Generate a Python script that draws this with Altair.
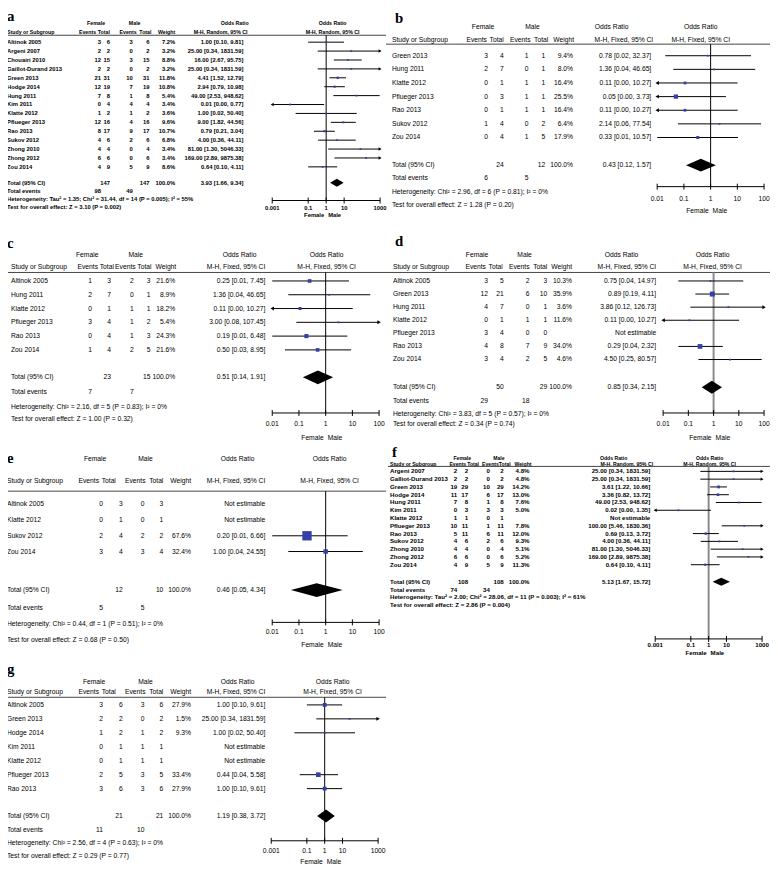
import altair as alt
import pandas as pd

OFF = 8           # page margin
W, H = 770, 863   # chart size

# ---------------- data ----------------
# (a) all studies, random effects
a_study = ["Altinok 2005", "Argeni  2007", "Chouairi 2010", "Gaillot-Durand  2013", "Green 2013", "Hodge 2014",
           "Hung 2011", "Kim  2011", "Klatte  2012", "Pflueger 2013", "Rao 2013", "Sukov 2012",
           "Zhong 2010", "Zhong 2012", "Zou 2014"]
a_fe = [3, 2, 12, 2, 21, 12, 7, 0, 1, 12, 8, 4, 4, 6, 4]
a_ft = [6, 2, 15, 2, 31, 19, 8, 4, 2, 16, 17, 6, 4, 6, 9]
a_me = [3, 0, 3, 0, 10, 7, 1, 4, 1, 4, 9, 2, 0, 0, 5]
a_mt = [6, 2, 15, 2, 31, 19, 8, 4, 2, 16, 17, 6, 4, 6, 9]
a_w = [7.2, 3.2, 8.8, 3.2, 11.8, 10.8, 5.4, 3.4, 3.6, 9.6, 10.7, 6.8, 3.4, 3.4, 8.6]
a_or = [1.00, 25.00, 16.00, 25.00, 4.41, 2.94, 49.00, 0.01, 1.00, 9.00, 0.79, 4.00, 81.00, 169.00, 0.64]
a_lo = [0.10, 0.34, 2.67, 0.34, 1.52, 0.79, 2.53, 0.00, 0.02, 1.82, 0.21, 0.36, 1.30, 2.89, 0.10]
a_hi = [9.81, 1831.59, 95.75, 1831.59, 12.79, 10.98, 948.62, 0.77, 50.40, 44.56, 3.04, 44.11, 5046.33, 9875.38, 4.11]
a_tot = [147, 147, 3.93, 1.66, 9.34]
a_ev = [98, 49]
a_het = "Heterogeneity: Tau² = 1.35; Chi² = 31.44, df = 14 (P = 0.005); I² = 55%"
a_test = "Test for overall effect: Z = 3.10 (P = 0.002)"

# (b)
b_study = ["Green 2013", "Hung 2011", "Klatte  2012", "Pflueger 2013", "Rao 2013", "Sukov 2012", "Zou 2014"]
b_fe = [3, 2, 0, 0, 0, 1, 0]
b_ft = [4, 7, 1, 3, 1, 4, 4]
b_me = [1, 0, 1, 1, 1, 0, 1]
b_mt = [1, 1, 1, 1, 1, 2, 5]
b_w = [9.4, 8.0, 16.4, 25.5, 16.4, 6.4, 17.9]
b_or = [0.78, 1.36, 0.11, 0.05, 0.11, 2.14, 0.33]
b_lo = [0.02, 0.04, 0.00, 0.00, 0.00, 0.06, 0.01]
b_hi = [32.37, 46.65, 10.27, 3.73, 10.27, 77.54, 10.57]
b_tot = [24, 12, 0.43, 0.12, 1.57]
b_ev = [6, 5]
b_het = "Heterogeneity: Chi² = 2.96, df = 6 (P = 0.81); I² = 0%"
b_test = "Test for overall effect: Z = 1.28 (P = 0.20)"

# (c)
c_study = ["Altinok 2005", "Hung 2011", "Klatte  2012", "Pflueger 2013", "Rao 2013", "Zou 2014"]
c_fe = [1, 2, 0, 3, 0, 1]
c_ft = [3, 7, 1, 4, 4, 4]
c_me = [2, 0, 1, 1, 1, 2]
c_mt = [3, 1, 1, 2, 3, 5]
c_w = [21.6, 8.9, 18.2, 5.4, 24.3, 21.6]
c_or = [0.25, 1.36, 0.11, 3.00, 0.19, 0.50]
c_lo = [0.01, 0.04, 0.00, 0.08, 0.01, 0.03]
c_hi = [7.45, 46.65, 10.27, 107.45, 6.48, 8.95]
c_tot = [23, 15, 0.51, 0.14, 1.91]
c_ev = [7, 7]
c_het = "Heterogeneity: Chi² = 2.16, df = 5 (P = 0.83); I² = 0%"
c_test = "Test for overall effect: Z = 1.00 (P = 0.32)"

# (d)
d_study = ["Altinok 2005", "Green 2013", "Hung 2011", "Klatte  2012", "Pflueger 2013", "Rao 2013", "Zou 2014"]
d_fe = [3, 12, 4, 0, 3, 4, 3]
d_ft = [5, 21, 7, 1, 4, 8, 4]
d_me = [2, 6, 0, 1, 0, 7, 2]
d_mt = [3, 10, 1, 1, 0, 9, 5]
d_w = [10.3, 35.9, 3.6, 11.6, None, 34.0, 4.6]
d_or = [0.75, 0.89, 3.86, 0.11, None, 0.29, 4.50]
d_lo = [0.04, 0.19, 0.12, 0.00, None, 0.04, 0.25]
d_hi = [14.97, 4.11, 126.73, 10.27, None, 2.32, 80.57]
d_tot = [50, 29, 0.85, 0.34, 2.15]
d_ev = [29, 18]
d_het = "Heterogeneity: Chi² = 3.83, df = 5 (P = 0.57); I² = 0%"
d_test = "Test for overall effect: Z = 0.34 (P = 0.74)"

# (e)
e_study = ["Altinok 2005", "Klatte  2012", "Sukov 2012", "Zou 2014"]
e_fe = [0, 0, 2, 3]
e_ft = [3, 1, 4, 4]
e_me = [0, 0, 2, 3]
e_mt = [3, 1, 2, 4]
e_w = [None, None, 67.6, 32.4]
e_or = [None, None, 0.20, 1.00]
e_lo = [None, None, 0.01, 0.04]
e_hi = [None, None, 6.66, 24.55]
e_tot = [12, 10, 0.46, 0.05, 4.34]
e_ev = [5, 5]
e_het = "Heterogeneity: Chi² = 0.44, df = 1 (P = 0.51); I² = 0%"
e_test = "Test for overall effect: Z = 0.68 (P = 0.50)"

# (f)
f_study = ["Argeni  2007", "Galliot-Durand  2013", "Green 2013", "Hodge 2014", "Hung 2011", "Kim  2011",
           "Klatte  2012", "Pflueger 2013", "Rao 2013", "Sukov 2012", "Zhong 2010", "Zhong 2012", "Zou 2014"]
f_fe = [2, 2, 19, 11, 7, 0, 1, 10, 5, 4, 4, 6, 4]
f_ft = [2, 2, 29, 17, 8, 3, 1, 11, 11, 6, 4, 6, 9]
f_me = [0, 0, 10, 6, 1, 3, 0, 1, 6, 2, 0, 0, 5]
f_mt = [2, 2, 29, 17, 8, 3, 1, 11, 11, 6, 4, 6, 9]
f_w = [4.8, 4.8, 14.2, 13.0, 7.6, 5.0, None, 7.8, 12.0, 9.3, 5.1, 5.2, 11.3]
f_or = [25.00, 25.00, 3.61, 3.36, 49.00, 0.02, None, 100.00, 0.69, 4.00, 81.00, 169.00, 0.64]
f_lo = [0.34, 0.34, 1.22, 0.82, 2.53, 0.00, None, 5.46, 0.13, 0.36, 1.30, 2.89, 0.10]
f_hi = [1831.59, 1831.59, 10.66, 13.72, 948.62, 1.35, None, 1830.36, 3.72, 44.11, 5046.33, 9875.38, 4.11]
f_tot = [108, 108, 5.13, 1.67, 15.72]
f_ev = [74, 34]
f_het = "Heterogeneity: Tau² = 2.00; Chi² = 28.06, df = 11 (P = 0.003); I² = 61%"
f_test = "Test for overall effect: Z = 2.86 (P = 0.004)"

# (g)
g_study = ["Altinok 2005", "Green 2013", "Hodge 2014", "Kim  2011", "Klatte  2012", "Pflueger 2013", "Rao 2013"]
g_fe = [3, 2, 1, 0, 0, 2, 3]
g_ft = [6, 2, 2, 1, 1, 5, 6]
g_me = [3, 0, 1, 1, 1, 3, 3]
g_mt = [6, 2, 2, 1, 1, 5, 6]
g_w = [27.9, 1.5, 9.3, None, None, 33.4, 27.9]
g_or = [1.00, 25.00, 1.00, None, None, 0.44, 1.00]
g_lo = [0.10, 0.34, 0.02, None, None, 0.04, 0.10]
g_hi = [9.61, 1831.59, 50.40, None, None, 5.58, 9.61]
g_tot = [21, 21, 1.19, 0.38, 3.72]
g_ev = [11, 10]
g_het = "Heterogeneity: Chi² = 2.56, df = 4 (P = 0.63); I² = 0%"
g_test = "Test for overall effect: Z = 0.29 (P = 0.77)"

# ---------------- layout (page pixel positions) ----------------
WIDE_A = dict(font="Liberation Sans", size=5.9, hsize=5.3, fw="bold")
WIDE_F = dict(font="Liberation Sans", size=6.2, hsize=5.2, fw="bold")
NARROW = dict(font="Liberation Sans", size=6.8, hsize=6.8, fw="normal")

La = dict(lab=(7, 17), row1=19, row2=28, line=31, lx=(5, 390), y0=38, step=9, total=180, tev=188, het=196.5, test=204.5,
          sx=7, hdr=[97, 111, 138, 153, 177, 250], val=[102, 111, 134, 151, 177, 246], grp=[97, 136, 237], fhdr=336,
          dom=(0.001, 1000), xr=(275, 384), axis=198, ticklab=205.5, fm=212.5, ticks=[0.001, 0.1, 1, 10, 1000],
          vcol="black", vw=1, k=0.2, dia=4, arrow=12, **WIDE_A)
Lb = dict(lab=(399, 19), row1=23, row2=36, line=40, lx=(390, 778), y0=51.7, step=13.77, total=162.3, tev=175.7, het=189.3,
          test=202.3, sx=396, hdr=[492, 509, 536, 554, 580, 660], val=[493, 509, 534, 551, 579, 658], grp=[488, 538, 618],
          fhdr=708, dom=(0.01, 100), xr=(664, 772), axis=184, ticklab=197, fm=209, ticks=[0.01, 0.1, 1, 10, 100],
          vcol="black", vw=1, k=0.17, dia=6.5, arrow=16, **NARROW)
Lc = dict(lab=(7, 246), row1=253, row2=265.7, line=270.7, lx=(5, 390), y0=279.3, step=13.93, total=376.7, tev=392,
          het=406.7, test=419.3, sx=11, hdr=[99, 115, 137, 153, 178, 268], val=[93, 112, 135, 152, 177, 268],
          grp=[88, 137, 242], fhdr=330, dom=(0.01, 100), xr=(275, 383), axis=412.7, ticklab=424.3, fm=437.7,
          ticks=[0.01, 0.1, 1, 10, 100], vcol="black", vw=1, k=0.17, dia=7, arrow=16, **NARROW)
Ld = dict(lab=(399, 244), row1=253, row2=265.7, line=270.7, lx=(390, 778), y0=279.3, step=13.23, total=386.7, tev=401,
          het=413.3, test=424, sx=397, hdr=[491, 508, 535, 553, 578, 663], val=[493, 509, 535, 553, 578, 663],
          grp=[482, 530, 628], fhdr=720, dom=(0.01, 100), xr=(670, 772), axis=412.7, ticklab=424, fm=437.7,
          ticks=[0.01, 0.1, 1, 10, 100], vcol="#8a8a8a", vw=2, k=0.14, dia=6.5, arrow=16, **NARROW)
Le = dict(lab=(7, 463), row1=459, row2=481.7, line=491.7, lx=(5, 390), y0=505, step=15.9, total=591.7, tev=610, het=626,
          test=641.7, sx=7, hdr=[100, 117, 147, 165, 193, 268], val=[104, 124, 146, 165, 193, 268], grp=[96, 147, 240],
          fhdr=333, dom=(0.01, 100), xr=(275, 383), axis=624.3, ticklab=634, fm=646.7, ticks=[0.01, 0.1, 1, 10, 100],
          vcol="black", vw=1, k=0.14, dia=7, arrow=16, **NARROW)
Lf = dict(lab=(396, 457), row1=458, row2=464.3, line=466.7, lx=(392, 778), y0=471.7, step=7.86, total=583.3, tev=591.7,
          het=599, test=606.7, sx=394, hdr=[471, 484, 504, 516, 537, 660], val=[462, 473, 495, 509, 535, 657],
          grp=[467, 504, 620], fhdr=717, dom=(0.001, 1000), xr=(662, 770), axis=641, ticklab=647, fm=655.7,
          ticks=[0.001, 0.1, 1, 10, 1000], vcol="#8a8a8a", vw=2, k=0.2, dia=4, arrow=12, **WIDE_F)
Lg = dict(lab=(7, 676), row1=685, row2=695, line=700, lx=(5, 390), y0=707.7, step=14.1, total=820, tev=834, het=847.7,
          test=860, sx=7, hdr=[100, 117, 147, 165, 193, 268], val=[104, 124, 146, 165, 193, 268], grp=[95, 147, 240],
          fhdr=336, dom=(0.001, 1000), xr=(274, 382), axis=845, ticklab=855, fm=866.7,
          ticks=[0.001, 0.1, 1, 10, 1000], vcol="black", vw=1, k=0.14, dia=6.5, arrow=16, **NARROW)

PANELS = [
    ("a", "Random", La, a_study, a_fe, a_ft, a_me, a_mt, a_w, a_or, a_lo, a_hi, a_tot, a_ev, a_het, a_test),
    ("b", "Fixed", Lb, b_study, b_fe, b_ft, b_me, b_mt, b_w, b_or, b_lo, b_hi, b_tot, b_ev, b_het, b_test),
    ("c", "Fixed", Lc, c_study, c_fe, c_ft, c_me, c_mt, c_w, c_or, c_lo, c_hi, c_tot, c_ev, c_het, c_test),
    ("d", "Fixed", Ld, d_study, d_fe, d_ft, d_me, d_mt, d_w, d_or, d_lo, d_hi, d_tot, d_ev, d_het, d_test),
    ("e", "Fixed", Le, e_study, e_fe, e_ft, e_me, e_mt, e_w, e_or, e_lo, e_hi, e_tot, e_ev, e_het, e_test),
    ("f", "Random", Lf, f_study, f_fe, f_ft, f_me, f_mt, f_w, f_or, f_lo, f_hi, f_tot, f_ev, f_het, f_test),
    ("g", "Fixed", Lg, g_study, g_fe, g_ft, g_me, g_mt, g_w, g_or, g_lo, g_hi, g_tot, g_ev, g_het, g_test),
]

SQUARE = "#3440a8"


def fmt_or(e, l, h):
    if e is None:
        return "Not estimable"
    return f"{e:.2f} [{l:.2f}, {h:.2f}]"


def build(P):
    key, method, L, study, fe, ft, me, mt, w, orr, lo, hi, tot, ev, het, test = P
    y0, step = L["y0"], L["step"]
    R = lambda y: (y - y0) / step
    ysc = alt.Scale(domain=[0, 1], range=[y0 - OFF, y0 + step - OFF], nice=False, zero=False)
    dlo, dhi = L["dom"]
    xsc = alt.Scale(type="log", domain=[dlo, dhi], range=[L["xr"][0] - OFF, L["xr"][1] - OFF], clamp=True, nice=False)
    Y = lambda f="r": alt.Y(f"{f}:Q", scale=ysc, axis=None)
    X = lambda f: alt.X(f"{f}:Q", scale=xsc, axis=None)

    # ---- table text cells ----
    cells = []

    def add(x, y, t, align="left", style="body"):
        cells.append(dict(x=x, r=R(y), t=t, align=align, style=style))

    add(L["lab"][0], L["lab"][1], key, "left", "label")
    g = L["grp"]
    add(g[0], L["row1"], "Female", "center", "head")
    add(g[1], L["row1"], "Male", "center", "head")
    add(g[2], L["row1"], "Odds Ratio", "center", "head")
    add(L["fhdr"], L["row1"], "Odds Ratio", "center", "head")
    mh = f"M-H, {method}, 95% CI"
    add(L["sx"], L["row2"], "Study or Subgroup", "left", "head")
    for x, t in zip(L["hdr"], ["Events", "Total", "Events", "Total", "Weight", mh]):
        add(x, L["row2"], t, "right", "head")
    add(L["fhdr"], L["row2"], mh, "center", "head")
    v = L["val"]
    for i in range(len(study)):
        y = y0 + i * step
        add(L["sx"], y, study[i])
        add(v[0], y, str(fe[i]), "right")
        add(v[1], y, str(ft[i]), "right")
        add(v[2], y, str(me[i]), "right")
        add(v[3], y, str(mt[i]), "right")
        if w[i] is not None:
            add(v[4], y, f"{w[i]:.1f}%", "right")
        add(v[5], y, fmt_or(orr[i], lo[i], hi[i]), "right")
    add(L["sx"], L["total"], "Total (95% CI)")
    add(v[1], L["total"], str(tot[0]), "right")
    add(v[3], L["total"], str(tot[1]), "right")
    add(v[4], L["total"], "100.0%", "right")
    add(v[5], L["total"], fmt_or(tot[2], tot[3], tot[4]), "right")
    add(L["sx"], L["tev"], "Total events")
    add(v[0], L["tev"], str(ev[0]), "right")
    add(v[2], L["tev"], str(ev[1]), "right")
    add(L["sx"], L["het"], het)
    add(L["sx"], L["test"], test)

    layers = []
    cdf = pd.DataFrame(cells)
    for (x, align, style), grp in cdf.groupby(["x", "align", "style"]):
        if style == "label":
            mk = dict(font="Liberation Serif", fontSize=15, fontWeight="bold", baseline="alphabetic")
        elif style == "head":
            mk = dict(font=L["font"], fontSize=L["hsize"], fontWeight=L["fw"], baseline="middle")
        else:
            mk = dict(font=L["font"], fontSize=L["size"], fontWeight=L["fw"], baseline="middle")
        layers.append(
            alt.Chart(grp[["r", "t"]]).mark_text(align=align, color="black", **mk)
            .encode(x=alt.value(x - OFF), y=Y(), text="t:N")
        )

    # ---- header rule ----
    layers.append(alt.Chart(pd.DataFrame({"r": [R(L["line"])]})).mark_rule(color="#444444", strokeWidth=1)
                  .encode(x=alt.value(L["lx"][0] - OFF), x2=alt.value(L["lx"][1] - OFF), y=Y()))

    # ---- forest ----
    rows = []
    for i in range(len(study)):
        if orr[i] is None:
            continue
        side = max(L["k"] * w[i], 1.8)
        rows.append(dict(r=i, est=orr[i], lo=max(lo[i], dlo / 10), hi=hi[i], sz=side * side))
    fdf = pd.DataFrame(rows)
    # vertical line at OR = 1
    layers.append(alt.Chart(pd.DataFrame({"v": [1], "r": [R(L["line"])], "r2": [R(L["axis"])]}))
                  .mark_rule(color=L["vcol"], strokeWidth=L["vw"]).encode(x=X("v"), y=Y("r"), y2="r2"))
    layers.append(alt.Chart(fdf).mark_rule(color="black", strokeWidth=1).encode(x=X("lo"), x2="hi", y=Y()))
    left = fdf[fdf["lo"] < dlo]
    right = fdf[fdf["hi"] > dhi]
    if len(left):
        layers.append(alt.Chart(left).mark_point(shape="triangle-left", filled=True, color="black", opacity=1,
                                                 size=L["arrow"]).encode(x=X("lo"), y=Y()))
    if len(right):
        layers.append(alt.Chart(right).mark_point(shape="triangle-right", filled=True, color="black", opacity=1,
                                                  size=L["arrow"]).encode(x=X("hi"), y=Y()))
    layers.append(alt.Chart(fdf).mark_square(color=SQUARE, opacity=1)
                  .encode(x=X("est"), y=Y(), size=alt.Size("sz:Q", scale=None, legend=None)))
    # diamond
    rt = R(L["total"])
    h = L["dia"] / step
    ddf = pd.DataFrame({"x": [tot[3], tot[2], tot[4]], "r": [rt, rt - h, rt], "r2": [rt, rt + h, rt]})
    layers.append(alt.Chart(ddf).mark_area(color="black", orient="vertical", opacity=1)
                  .encode(x=X("x"), y=Y("r"), y2="r2"))
    # axis
    ra = R(L["axis"])
    layers.append(alt.Chart(pd.DataFrame({"a": [dlo], "b": [dhi], "r": [ra]})).mark_rule(color="black")
                  .encode(x=X("a"), x2="b", y=Y()))
    th = 3 / step
    tdf = pd.DataFrame({"v": L["ticks"], "r": [ra - th] * len(L["ticks"]), "r2": [ra + th] * len(L["ticks"])})
    layers.append(alt.Chart(tdf).mark_rule(color="black").encode(x=X("v"), y=Y("r"), y2="r2"))
    ldf = pd.DataFrame({"v": L["ticks"], "r": [R(L["ticklab"])] * len(L["ticks"]),
                        "t": [f"{t:g}" for t in L["ticks"]]})
    layers.append(alt.Chart(ldf).mark_text(baseline="middle", font=L["font"], fontSize=L["size"],
                                           fontWeight=L["fw"], color="black")
                  .encode(x=X("v"), y=Y(), text="t:N"))
    fm = pd.DataFrame({"v": [1], "r": [R(L["fm"])]})
    layers.append(alt.Chart(fm).mark_text(align="right", baseline="middle", dx=-2, font=L["font"],
                                          fontSize=L["size"], fontWeight=L["fw"], color="black", text="Female")
                  .encode(x=X("v"), y=Y()))
    layers.append(alt.Chart(fm).mark_text(align="left", baseline="middle", dx=2, font=L["font"],
                                          fontSize=L["size"], fontWeight=L["fw"], color="black", text="Male")
                  .encode(x=X("v"), y=Y()))
    return alt.layer(*layers)


chart = alt.layer(*[build(P) for P in PANELS]).resolve_scale(x="independent", y="independent").properties(
    width=W, height=H, autosize=alt.AutoSizeParams(type="none"), padding=0
).configure_view(stroke=None)

chart.save("out.html", embed_options={"renderer": "svg", "actions": False})
